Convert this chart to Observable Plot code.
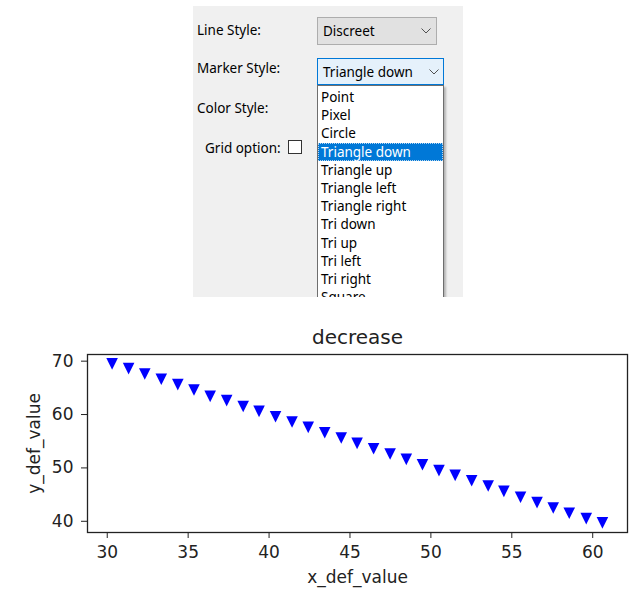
<!DOCTYPE html>
<html>
<head>
<meta charset="utf-8">
<script src="https://cdn.jsdelivr.net/npm/d3@7"></script>
<script src="https://cdn.jsdelivr.net/npm/@observablehq/plot@0.6"></script>
<style>
  html, body { margin: 0; padding: 0; background: #ffffff; }
  #page { position: relative; width: 633px; height: 590px; overflow: hidden; background: #ffffff; }
  #panel { position: absolute; left: 193px; top: 6px; width: 270px; height: 291px; background: #f0f0f0; overflow: hidden;
           font-family: "Noto Sans", sans-serif; font-size: 13.5px; color: #000; }
  .lbl { position: absolute; line-height: 18px; white-space: nowrap; }
  .combo { position: absolute; box-sizing: border-box; white-space: nowrap; }
  .combo span { position: absolute; left: 5px; top: 50%; transform: translateY(-50%); line-height: 18px; }
  .combo svg { position: absolute; top: 50%; transform: translateY(-50%); }
  #list { position: absolute; box-sizing: border-box; background: #fff; border: 1px solid #6e6e6e;
          box-shadow: 2px 2px 2px rgba(0,0,0,0.25); }
  .item { position: absolute; left: 0; right: 0; height: 18.2px; line-height: 18.2px; padding-left: 3px; white-space: nowrap; box-sizing: border-box; }
  .item.sel { background: #0078d7; color: #fff; outline: 1px dotted #b8d6f0; outline-offset: -1px; }
  #chart { position: absolute; left: 0; top: 300px; }
</style>
</head>
<body>
<div id="page">
  <div id="panel"></div>
  <div id="chart"></div>
</div>
<script>
// ---- data ----
const title = "decrease";
const xLabel = "x_def_value";
const yLabel = "y_def_value";
const xValues = [30.30, 31.32, 32.32, 33.34, 34.36, 35.36, 36.36, 37.38, 38.40, 39.38,
                 40.40, 41.42, 42.42, 43.44, 44.46, 45.44, 46.46, 47.48, 48.48, 49.48,
                 50.50, 51.50, 52.52, 53.54, 54.51, 55.54, 56.56, 57.56, 58.55, 59.60, 60.60];
const yValues = [69.5, 68.6, 67.6, 66.6, 65.6, 64.6, 63.4, 62.6, 61.5, 60.6,
                 59.6, 58.6, 57.6, 56.6, 55.6, 54.6, 53.6, 52.6, 51.6, 50.6,
                 49.5, 48.6, 47.6, 46.6, 45.6, 44.5, 43.5, 42.5, 41.5, 40.5, 39.7];
const xTicks = [30, 35, 40, 45, 50, 55, 60];
const yTicks = [40, 50, 60, 70];

// UI panel texts
const formLabels = ["Line Style:", "Marker Style:", "Color Style:", "Grid option:"];
const lineStyleValue = "Discreet";
const markerStyleValue = "Triangle down";
const markerOptions = ["Point", "Pixel", "Circle", "Triangle down", "Triangle up", "Triangle left",
                       "Triangle right", "Tri down", "Tri up", "Tri left", "Tri right", "Square"];

// ---- UI panel (positions relative to panel at 193,6) ----
const panel = document.getElementById("panel");
const PX = 193, PY = 6;
function addLabel(text, x, cy) {
  const d = document.createElement("div");
  d.className = "lbl"; d.textContent = text;
  d.style.left = (x - PX) + "px"; d.style.top = (cy - 9 - PY) + "px";
  panel.appendChild(d);
}
addLabel(formLabels[0], 197, 30);
addLabel(formLabels[1], 197, 68);
addLabel(formLabels[2], 197, 108);
addLabel(formLabels[3], 205, 148);

const chevron = '<svg width="10" height="6" viewBox="0 0 10 6"><polyline points="0.5,0.5 5,5 9.5,0.5" fill="none" stroke="#505050" stroke-width="1"/></svg>';
function addCombo(text, x, y, w, h, bg, border, chevX) {
  const d = document.createElement("div");
  d.className = "combo";
  Object.assign(d.style, { left: (x - PX) + "px", top: (y - PY) + "px", width: w + "px", height: h + "px",
                           background: bg, border: "1px solid " + border });
  d.innerHTML = "<span></span>" + chevron;
  d.querySelector("span").textContent = text;
  d.querySelector("svg").style.left = (chevX - x - 5) + "px";
  panel.appendChild(d);
}
addCombo(lineStyleValue, 317, 17, 120, 28, "#e1e1e1", "#adadad", 425);
addCombo(markerStyleValue, 317, 58, 127, 27, "#e5f1fb", "#0078d7", 433);

// checkbox
const cb = document.createElement("div");
Object.assign(cb.style, { position: "absolute", left: (288 - PX) + "px", top: (140 - PY) + "px", width: "14px", height: "14px",
                          boxSizing: "border-box", border: "1px solid #333", background: "#fff" });
panel.appendChild(cb);

// dropdown list (clipped by the panel's bottom edge, as in the screenshot)
const list = document.createElement("div");
list.id = "list";
Object.assign(list.style, { left: (317 - PX) + "px", top: (85 - PY) + "px", width: "127px", height: "240px" });
markerOptions.forEach((t, i) => {
  const it = document.createElement("div");
  it.className = "item" + (t === markerStyleValue ? " sel" : "");
  it.textContent = t;
  it.style.top = (2 + i * 18.2) + "px";
  list.appendChild(it);
});
panel.appendChild(list);

// ---- chart ----
const data = xValues.map((x, i) => ({ x, y: yValues[i] }));
const triangleDown = {
  draw(context, size) {
    const r = Math.sqrt(size / Math.PI);
    context.moveTo(-r, -r);
    context.lineTo(r, -r);
    context.lineTo(0, r);
    context.closePath();
  }
};

const chart = Plot.plot({
  width: 633,
  height: 290,
  marginTop: 54,
  marginRight: 6,
  marginBottom: 58,
  marginLeft: 87,
  style: { fontFamily: "DejaVu Sans", fontSize: "17px", color: "#222", background: "#ffffff", overflow: "visible" },
  x: { domain: [28.78, 62.15], ticks: xTicks, tickSize: 6, tickPadding: 7, label: xLabel, labelAnchor: "center", labelOffset: 50, labelArrow: "none" },
  y: { domain: [37.9, 71.25], ticks: yTicks, tickSize: 6, tickPadding: 8, label: yLabel, labelAnchor: "center", labelOffset: 60, labelArrow: "none" },
  marks: [
    Plot.dot(data, { x: "x", y: "y", symbol: triangleDown, r: 5.8, fill: "#0000ff", stroke: "none" }),
    Plot.frame({ stroke: "#222", strokeWidth: 1.3 }),
    Plot.text([title], { text: d => d, frameAnchor: "top", dy: -17, fontSize: 20, lineAnchor: "middle", fill: "#222" })
  ]
});
document.getElementById("chart").appendChild(chart);
</script>
</body>
</html>
